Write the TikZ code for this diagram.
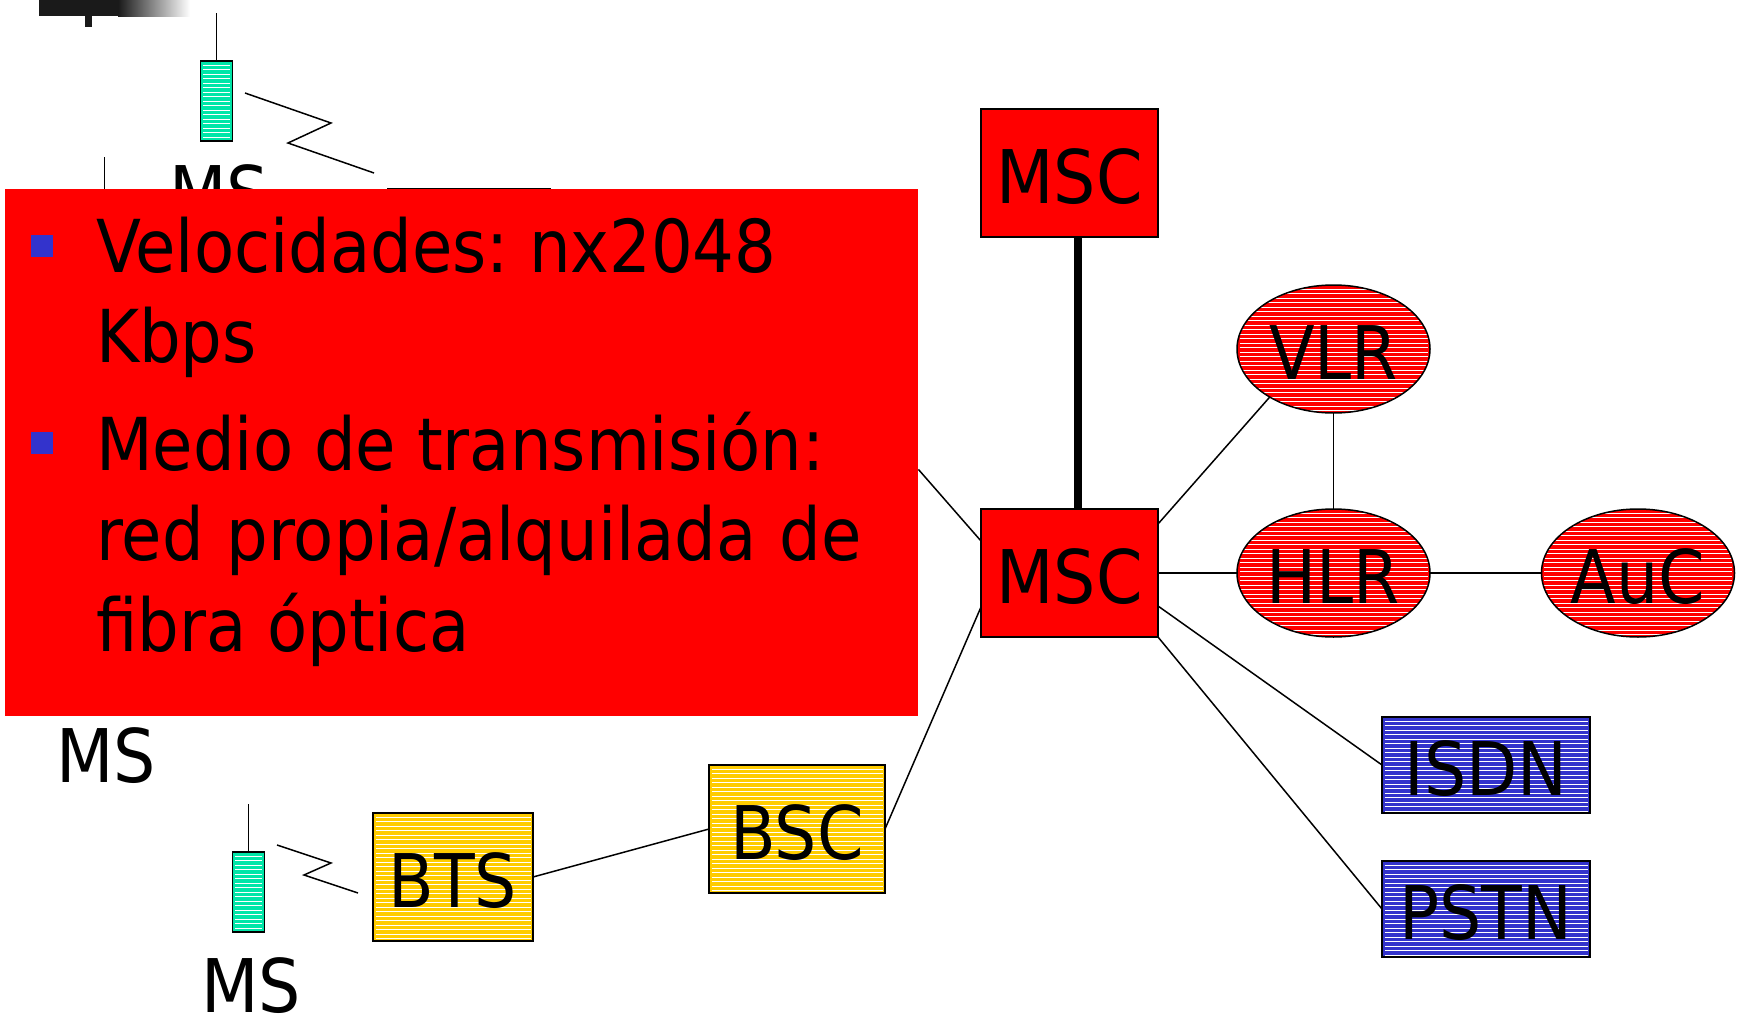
\documentclass[tikz,border=0pt]{standalone}
\usepackage{fontspec}
\setmainfont{DejaVu Sans Condensed}
\usetikzlibrary{shapes.geometric}
\definecolor{nred}{HTML}{FF0000}
\definecolor{nblue}{HTML}{3333CC}
\definecolor{ngreen}{HTML}{00E6A8}
\definecolor{nyellow}{HTML}{FFCC00}
\definecolor{ndark}{HTML}{1A1A1A}
\tikzset{
  stripes/.style={path picture={
    \foreach \k in {0,...,30}{
      \pgfmathsetmacro{\yy}{int(4.5*\k)+4.5}
      \draw[white,line width=1pt]
        ([xshift=2.5pt,yshift=-\yy pt]path picture bounding box.north west) --
        ([xshift=-2.5pt,yshift=-\yy pt]path picture bounding box.north east);
    }}},
  base/.style={draw=black,line width=1.5pt,inner sep=0pt,outer sep=0pt,text=black,text height=60pt,text depth=0pt,font=\fontsize{74}{74}\selectfont},
  redbox/.style={base,fill=nred,rectangle,minimum width=177pt,minimum height=128pt},
  oval/.style={base,ellipse,fill=nred,stripes,minimum width=193pt,minimum height=128pt},
  netbox/.style={base,rectangle,fill=nblue,stripes,minimum width=208pt,minimum height=96pt},
  bsc/.style={base,rectangle,fill=nyellow,stripes,minimum height=128pt},
  phone/.style={base,rectangle,fill=ngreen,stripes,minimum width=32pt,minimum height=80pt},
  mslabel/.style={inner sep=0pt,anchor=base,text=black,font=\fontsize{74}{74}\selectfont},
  link/.style={draw=black,line width=1.5pt},
  bultext/.style={inner sep=0pt,anchor=base west,text=black,font=\fontsize{73}{73}\selectfont},
  bullet/.style={fill=nblue,draw=none,inner sep=0pt,minimum width=22pt,minimum height=22pt,rectangle}
}
\begin{document}
\begin{tikzpicture}[x=1pt,y=-1pt]
\useasboundingbox (0,0) rectangle (1746,1017);
% logo remnant
\fill[ndark] (85,16) rectangle (92,27);
\fill[ndark] (39,0) rectangle (118,16);
\shade[left color=ndark,right color=white] (118,0) rectangle (190,16);
% top-left phone
\node[phone] (ph1) at (216.5,101) {};
\coordinate (ant1) at (216.5,13);
\draw[link] (ant1) -- (ph1.north);
\coordinate (z1a) at (245,93); \coordinate (z1b) at (331,123);
\coordinate (z1c) at (288,143); \coordinate (z1d) at (374,173);
\draw[link] (z1a) -- (z1b) -- (z1c) -- (z1d);
\node[mslabel] (ms1) at (219,219) {MS};
\coordinate (ant2) at (104.5,157); \coordinate (ant2b) at (104.5,200);
\draw[link] (ant2) -- (ant2b);
\node[base,rectangle,fill=nyellow,minimum width=162pt,minimum height=60pt] (bts1) at (469,219) {};
% right nodes
\node[redbox] (msc1) at (1069.5,173) {MSC};
\node[redbox] (msc2) at (1069.5,573) {MSC};
\node[oval] (vlr) at (1333.5,349) {VLR};
\node[oval] (hlr) at (1333.5,573) {HLR};
\node[oval] (auc) at (1638,573) {AuC};
\node[netbox] (isdn) at (1486,765) {ISDN};
\node[netbox] (pstn) at (1486,909) {PSTN};
\node[bsc,minimum width=176pt] (bsc) at (797,829) {BSC};
\node[bsc,minimum width=160pt] (bts) at (453,877) {BTS};
\node[phone] (ph3) at (248.5,892) {};
\coordinate (ant3) at (248.5,804);
\draw[link] (ant3) -- (ph3.north);
\coordinate (z3a) at (277,845); \coordinate (z3b) at (331,863);
\coordinate (z3c) at (304,875); \coordinate (z3d) at (358,893);
\draw[link] (z3a) -- (z3b) -- (z3c) -- (z3d);
\node[mslabel] (ms3) at (251,1012) {MS};
\node[mslabel] (ms2) at (106,782) {MS};
% connectors
\draw[draw=black,line width=8pt] ([xshift=8.5pt]msc1.south) -- ([xshift=8.5pt]msc2.north);
\draw[link] (msc2.east) -- (hlr.west);
\draw[link] (hlr.east) -- (auc.west);
\draw[link] (vlr.south) -- (hlr.north);
\draw[link] ([yshift=-15pt]msc2.north east) -- (vlr.-143);
\draw[link] ([yshift=31pt]msc2.south east) -- (isdn.west);
\draw[link] (msc2.south east) -- (pstn.west);
\draw[link] (bts.east) -- (bsc.west);
\draw[link] (bsc.east) -- ([yshift=30pt]msc2.south west);
% red panel
\node[fill=nred,draw=none,inner sep=0pt,anchor=north west,minimum width=913pt,minimum height=527pt] (panel) at (5,189) {};
\draw[link] ([yshift=247pt]panel.south east) -- ([yshift=32pt]msc2.west);
\node[bullet] (b1) at (42,246) {};
\node[bullet] (b2) at (42,443) {};
\node[bultext] (t1) at (96,272) {Velocidades:\hspace{20pt}nx2048};
\node[bultext] (t2) at (96,362) {Kbps};
\node[bultext] (t3) at (96,470) {Medio de transmisión:};
\node[bultext] (t4) at (96,560) {red\hspace{23pt}propia/alquilada\hspace{23pt}de};
\node[bultext] (t5) at (96,651) {f{}ibra óptica};
\end{tikzpicture}
\end{document}
